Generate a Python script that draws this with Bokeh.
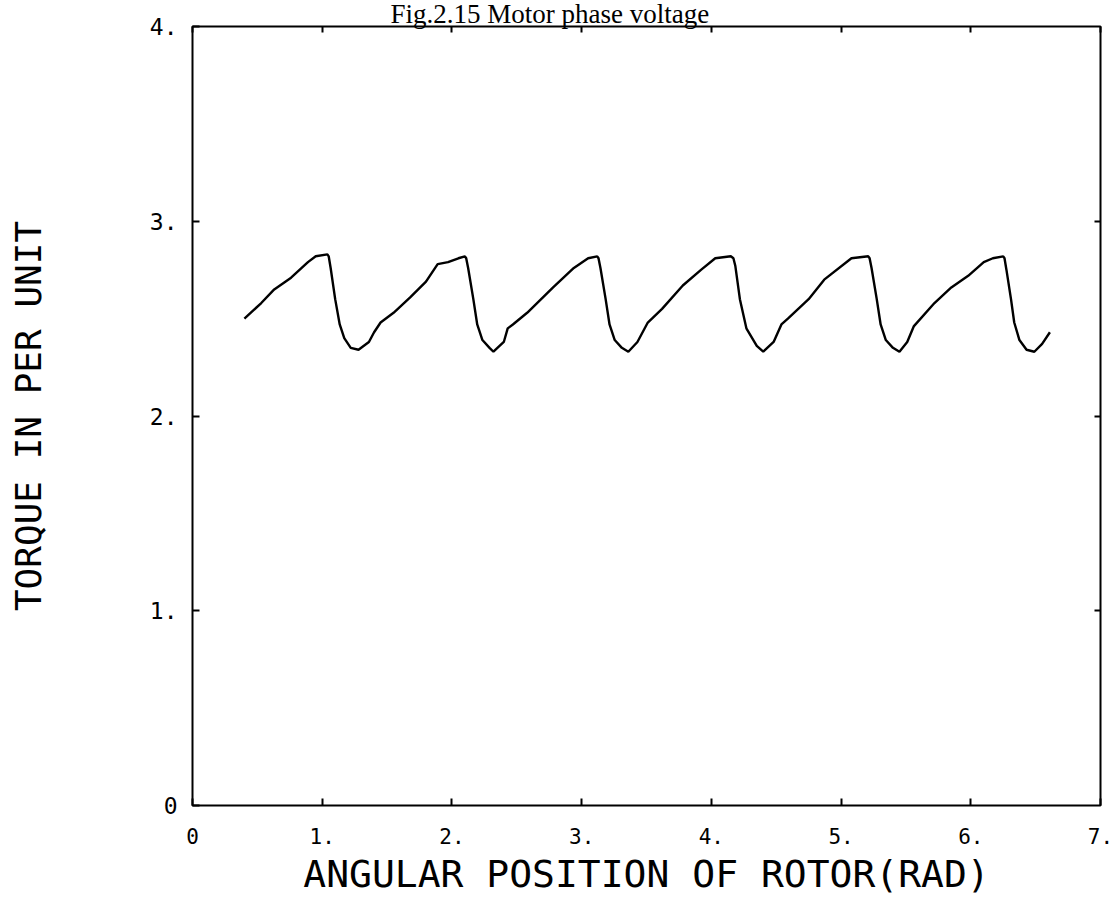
from bokeh.plotting import figure
from bokeh.models import Range1d, LinearAxis, FixedTicker, Title, CustomJSTickFormatter
from bokeh.embed import file_html
from bokeh.resources import INLINE

# ---- data ----
angle = [
    0.40, 0.53, 0.63, 0.76, 0.89, 0.95, 1.04,
    1.05, 1.065, 1.10, 1.135, 1.17, 1.22, 1.28,
    1.36, 1.40, 1.45, 1.55, 1.68, 1.80, 1.89, 1.97, 2.05, 2.10,
    2.11, 2.125, 2.165, 2.195, 2.235, 2.29, 2.32,
    2.40, 2.43, 2.47, 2.58, 2.78, 2.94, 3.05, 3.12,
    3.13, 3.145, 3.185, 3.215, 3.255, 3.31, 3.36,
    3.43, 3.51, 3.62, 3.78, 3.92, 4.03, 4.15,
    4.17, 4.185, 4.22, 4.27, 4.35, 4.40,
    4.48, 4.54, 4.59, 4.75, 4.87, 5.08, 5.21,
    5.22, 5.235, 5.275, 5.305, 5.345, 5.40, 5.45,
    5.51, 5.56, 5.72, 5.85, 5.98, 6.10, 6.17, 6.25,
    6.26, 6.275, 6.31, 6.335, 6.375, 6.43, 6.49,
    6.55, 6.61,
]
torque = [
    2.50, 2.58, 2.65, 2.71, 2.79, 2.82, 2.83,
    2.82, 2.76, 2.60, 2.47, 2.40, 2.35, 2.34,
    2.38, 2.43, 2.48, 2.53, 2.61, 2.69, 2.78, 2.79, 2.81, 2.82,
    2.81, 2.76, 2.60, 2.47, 2.39, 2.35, 2.33,
    2.38, 2.45, 2.47, 2.53, 2.66, 2.76, 2.81, 2.82,
    2.81, 2.76, 2.60, 2.47, 2.39, 2.35, 2.33,
    2.38, 2.48, 2.55, 2.67, 2.75, 2.81, 2.82,
    2.81, 2.77, 2.60, 2.45, 2.36, 2.33,
    2.38, 2.47, 2.50, 2.60, 2.70, 2.81, 2.82,
    2.81, 2.76, 2.60, 2.47, 2.39, 2.35, 2.33,
    2.38, 2.46, 2.58, 2.66, 2.72, 2.79, 2.81, 2.82,
    2.81, 2.75, 2.60, 2.48, 2.39, 2.34, 2.33,
    2.37, 2.43,
]
x_ticks = [0, 1, 2, 3, 4, 5, 6, 7]
x_tick_labels = ["0", "1.", "2.", "3.", "4.", "5.", "6.", "7."]
y_ticks = [0, 1, 2, 3, 4]
y_tick_labels = ["0", "1.", "2.", "3.", "4."]
title_text = "Fig.2.15 Motor phase voltage"
x_title = "ANGULAR POSITION OF ROTOR(RAD)"
y_title = "TORQUE IN PER UNIT"

MONO = "DejaVu Sans Mono"

p = figure(
    width=1116, height=898,
    x_range=Range1d(0, 7), y_range=Range1d(0, 4),
    output_backend="svg", toolbar_location=None,
    min_border_left=192, min_border_right=16,
    min_border_top=26, min_border_bottom=91,
    background_fill_color="white", border_fill_color="white",
    title=Title(text=title_text, text_font="Liberation Serif", text_font_size="27px",
                text_font_style="normal", text_color="black",
                align="left", offset=198, vertical_align="top", standoff=-8),
)
p.outline_line_color = "black"
p.outline_line_width = 2
p.grid.visible = False

# bottom axis
xa = p.xaxis[0]
xa.ticker = FixedTicker(ticks=x_ticks)
xa.major_label_overrides = dict(zip(x_ticks, x_tick_labels))
xa.axis_label = x_title
xa.axis_label_text_font = MONO
xa.axis_label_text_font_size = "38px"
xa.axis_label_text_font_style = "normal"
xa.axis_label_text_color = "black"
xa.axis_label_standoff = 5
xa.major_label_text_font = MONO
xa.major_label_text_font_size = "21px"
xa.major_label_text_color = "black"
xa.major_label_standoff = 22
xa.major_tick_in = 7
xa.major_tick_out = 0
xa.minor_tick_line_color = None
xa.axis_line_color = None
xa.major_tick_line_color = "black"
xa.major_tick_line_width = 2

# left axis
ya = p.yaxis[0]
ya.ticker = FixedTicker(ticks=y_ticks)
ya.major_label_overrides = dict(zip(y_ticks, y_tick_labels))
ya.axis_label = y_title
ya.axis_label_text_font = MONO
ya.axis_label_text_font_size = "36px"
ya.axis_label_text_font_style = "normal"
ya.axis_label_text_color = "black"
ya.axis_label_standoff = 98
ya.major_label_text_font = MONO
ya.major_label_text_font_size = "23px"
ya.major_label_text_color = "black"
ya.major_label_standoff = 15
ya.major_label_orientation = "horizontal"
ya.major_tick_in = 7
ya.major_tick_out = 0
ya.minor_tick_line_color = None
ya.axis_line_color = None
ya.major_tick_line_color = "black"
ya.major_tick_line_width = 2

# top and right axes: ticks only
blank = CustomJSTickFormatter(code="return ''")
top = LinearAxis(ticker=FixedTicker(ticks=x_ticks), formatter=blank,
                 major_label_standoff=0, major_tick_in=6, major_tick_out=0,
                 minor_tick_line_color=None, axis_line_color=None,
                 major_tick_line_color="black", major_tick_line_width=2)
right = LinearAxis(ticker=FixedTicker(ticks=y_ticks[1:4]), formatter=blank,
                   major_label_standoff=0, major_tick_in=6, major_tick_out=0,
                   minor_tick_line_color=None, axis_line_color=None,
                   major_tick_line_color="black", major_tick_line_width=2)
p.add_layout(top, "above")
p.add_layout(right, "right")

p.line(angle, torque, line_color="black", line_width=2.4)

open("out.html", "w").write(file_html(p, INLINE))
